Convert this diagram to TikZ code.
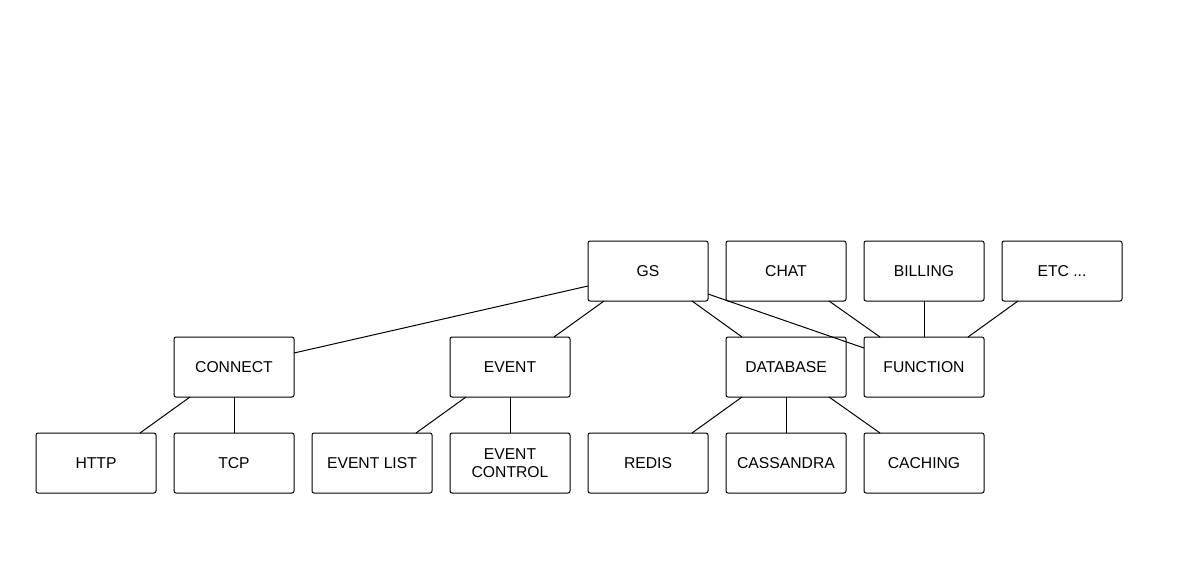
\documentclass[tikz,border=0pt]{standalone}
\usepackage{fontspec}
\setmainfont{Liberation Sans}
\usetikzlibrary{calc}
\begin{document}
\begin{tikzpicture}[x=1pt,y=-1pt,
  boxnode/.style={draw=black, line width=1pt, rounded corners=2pt, minimum width=120pt, minimum height=60pt, inner sep=0pt, outer sep=0pt, align=center, font=\fontsize{15.7}{17.5}\selectfont, text=black},
  link/.style={draw=black, line width=1pt}]
\useasboundingbox[fill=white] (0,0) rectangle (1194,565);
% top row
\node[boxnode] (gs) at (648,271) {GS};
\node[boxnode] (chat) at (786,271) {CHAT};
\node[boxnode] (billing) at (924,271) {BILLING};
\node[boxnode] (etc) at (1062,271) {ETC ...};
% middle row
\node[boxnode] (connect) at (234,367) {CONNECT};
\node[boxnode] (event) at (510,367) {EVENT};
\node[boxnode] (database) at (786,367) {DATABASE};
\node[boxnode] (function) at (924,367) {FUNCTION};
% bottom row
\node[boxnode] (http) at (96,463) {HTTP};
\node[boxnode] (tcp) at (234,463) {TCP};
\node[boxnode] (eventlist) at (372,463) {EVENT LIST};
\node[boxnode] (eventcontrol) at (510,463) {EVENT\\CONTROL};
\node[boxnode] (redis) at (648,463) {REDIS};
\node[boxnode] (cassandra) at (786,463) {CASSANDRA};
\node[boxnode] (caching) at (924,463) {CACHING};
% connectors
\draw[link] ($(gs.west)+(0,15)$) -- ($(connect.east)+(0,-14)$);
\draw[link] ($(gs.south west)+(16,0)$) -- ($(event.north east)+(-16,0)$);
\draw[link] ($(gs.south east)+(-16,0)$) -- ($(database.north west)+(16,0)$);
\draw[link] ($(gs.east)+(0,23)$) -- ($(function.west)+(0,-19)$);
\draw[link] ($(chat.south east)+(-17,0)$) -- ($(function.north west)+(16,0)$);
\draw[link] (billing.south) -- (function.north);
\draw[link] ($(etc.south west)+(16,0)$) -- ($(function.north east)+(-16,0)$);
\draw[link] ($(connect.south west)+(16,0)$) -- ($(http.north east)+(-16,0)$);
\draw[link] (connect.south) -- (tcp.north);
\draw[link] ($(event.south west)+(16,0)$) -- ($(eventlist.north east)+(-16,0)$);
\draw[link] (event.south) -- (eventcontrol.north);
\draw[link] ($(database.south west)+(16,0)$) -- ($(redis.north east)+(-16,0)$);
\draw[link] (database.south) -- (cassandra.north);
\draw[link] ($(database.south east)+(-17,0)$) -- ($(caching.north west)+(16,0)$);
\end{tikzpicture}
\end{document}
